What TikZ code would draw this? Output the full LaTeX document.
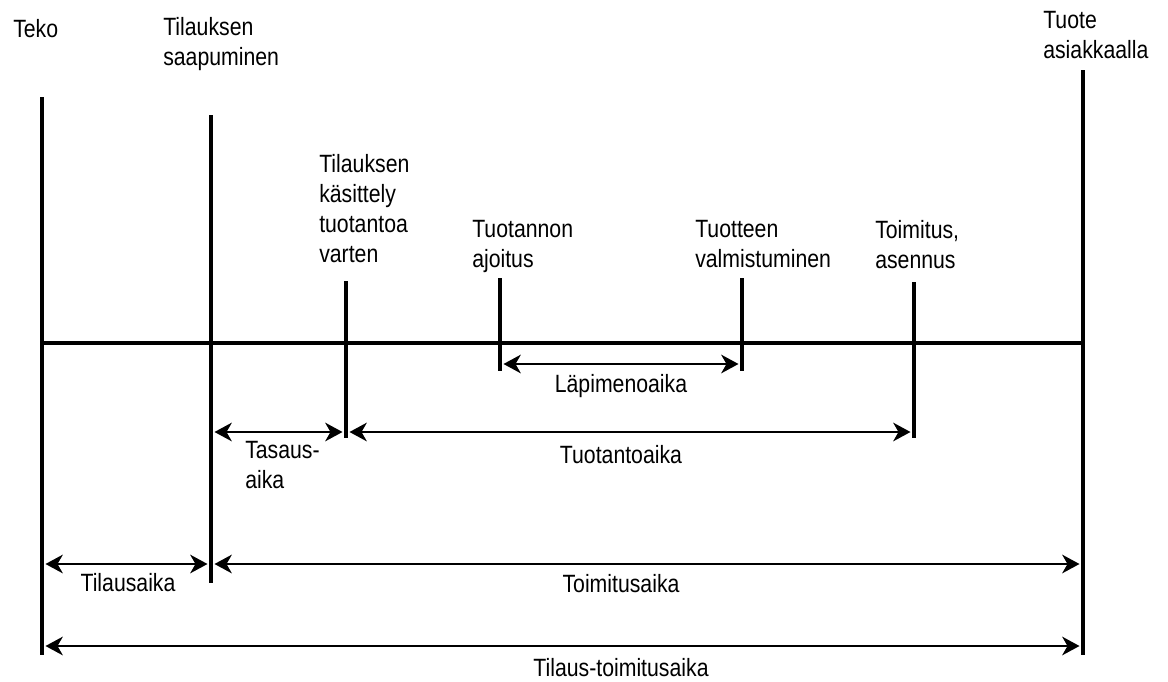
\documentclass[tikz,border=0pt]{standalone}
\usepackage{fontspec}
\setmainfont[FakeStretch=0.85]{Liberation Sans}
\usetikzlibrary{arrows.meta}
\begin{document}
\begin{tikzpicture}[x=0.75pt,y=-0.75pt,
  mark line/.style={line width=2.3pt},
  main line/.style={line width=2.3pt},
  span/.style={line width=1.4pt,{Stealth[length=13pt,width=14pt,inset=4pt]}-{Stealth[length=13pt,width=14pt,inset=4pt]}},
  lbl/.style={inner sep=0pt,align=left,font=\fontsize{18.75}{22.5}\selectfont},
]
\useasboundingbox[fill=white] (0,0) rectangle (1168,682);
% vertical markers
\coordinate (tekoT) at (42,97);      \coordinate (tekoB) at (42,655);
\coordinate (saaT) at (211,115);     \coordinate (saaB) at (211,583);
\coordinate (kasT) at (346,281);     \coordinate (kasB) at (346,438);
\coordinate (ajoT) at (500,278);     \coordinate (ajoB) at (500,371);
\coordinate (valT) at (742,278);     \coordinate (valB) at (742,371);
\coordinate (toiT) at (914,282);     \coordinate (toiB) at (914,438);
\coordinate (asiT) at (1083,70);     \coordinate (asiB) at (1083,655);
\coordinate (hL) at (42,343);        \coordinate (hR) at (1083,343);
\draw[main line] (hL) -- (hR);
\foreach \n in {teko,saa,kas,ajo,val,toi,asi}{\draw[mark line] (\n T) -- (\n B);}
% arrow end points
\coordinate (lapA) at (503.5,364);  \coordinate (lapB) at (738.5,364);
\coordinate (tasA) at (214.5,432);  \coordinate (tasB) at (342.5,432);
\coordinate (tuoA) at (349.5,432);  \coordinate (tuoB) at (910.5,432);
\coordinate (tilA) at (45.5,564);   \coordinate (tilB) at (207.5,564);
\coordinate (tomA) at (214.5,564);  \coordinate (tomB) at (1079.5,564);
\coordinate (ttA) at (45.5,646);    \coordinate (ttB) at (1079.5,646);
\draw[span] (lapA) -- (lapB);
\draw[span] (tasA) -- (tasB);
\draw[span] (tuoA) -- (tuoB);
\draw[span] (tilA) -- (tilB);
\draw[span] (tomA) -- (tomB);
\draw[span] (ttA) -- (ttB);
% top labels
\node[lbl,anchor=north west] (teko) at (13,19) {Teko};
\node[lbl,anchor=north west] (saa) at (163,17) {Tilauksen\\saapuminen};
\node[lbl,anchor=north west] (asi) at (1043,11) {Tuote\\asiakkaalla};
\node[lbl,anchor=north west] (kas) at (319,154) {Tilauksen\\käsittely\\tuotantoa\\varten};
\node[lbl,anchor=north west] (ajo) at (472,220) {Tuotannon\\ajoitus};
\node[lbl,anchor=north west] (val) at (695,220) {Tuotteen\\valmistuminen};
\node[lbl,anchor=north west] (toi) at (875,220) {Toimitus,\\asennus};
% span labels
\node[lbl,anchor=north] (lap) at (621,374) {Läpimenoaika};
\node[lbl,anchor=north west] (tas) at (245,441) {Tasaus-\\aika};
\node[lbl,anchor=north] (tuo) at (621,445) {Tuotantoaika};
\node[lbl,anchor=north] (til) at (128,573) {Tilausaika};
\node[lbl,anchor=north] (tom) at (621,574) {Toimitusaika};
\node[lbl,anchor=north] (tt) at (621,658) {Tilaus-toimitusaika};
\end{tikzpicture}
\end{document}
